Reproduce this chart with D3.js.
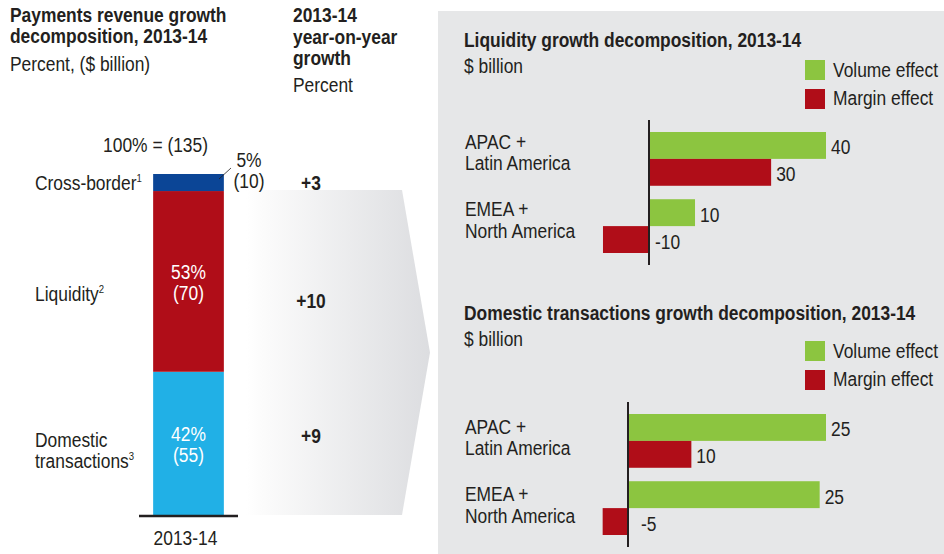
<!DOCTYPE html>
<html><head><meta charset="utf-8">
<script src="https://cdn.jsdelivr.net/npm/d3@7/dist/d3.min.js"></script>
<style>
body{margin:0;background:#fff;}
svg text{font-family:"Liberation Sans","Arial",sans-serif;fill:#231f20;}
</style></head>
<body>
<svg id="c" width="944" height="554"></svg>
<script>
// ---- Data ----
const segments = ["Domestic transactions", "Liquidity", "Cross-border"];
const segmentSup = ["3", "2", "1"];
const sharePct = [42, 53, 5];
const shareBn = [55, 70, 10];
const growthLabels = ["+9", "+10", "+3"];
const totalLabel = "100% = (135)";
const periodLabel = "2013-14";

const regions = [["APAC +", "Latin America"], ["EMEA +", "North America"]];
const seriesNames = ["Volume effect", "Margin effect"];
const liqVolume = [40, 10.4];
const liqMargin = [27.6, -10.4];
const liqLabels = [["40", "30"], ["10", "-10"]];
const domVolume = [25, 24.2];
const domMargin = [8, -3.2];
const domLabels = [["25", "10"], ["25", "-5"]];

const segColors = ["#21b0e6", "#b00d18", "#0b4596"];
const effColors = ["#8cc540", "#b00d18"];

(function () {
const svg = d3.select("#c");
const FS = 20, SX = 0.87;

// condensed text helper: real text, horizontally scaled
function T(x, y, arr, o = {}) {
  const t = svg.append("text")
    .attr("transform", `translate(${x},${y}) scale(${SX},1)`)
    .attr("font-size", o.fs || FS)
    .attr("text-anchor", o.anchor || "start");
  if (o.bold) t.attr("font-weight", "bold");
  if (o.fill) t.style("fill", o.fill);
  arr.forEach((s, k) => t.append("tspan").attr("x", 0).attr("y", o.ys ? o.ys[k] : k * (o.lh || 21)).text(s));
  return t;
}

// ---- Right panel background ----
svg.append("rect").attr("x", 438).attr("y", 11).attr("width", 506).attr("height", 543).attr("fill", "#e6e7e8");

// ---- Arrow gradient ----
const defs = svg.append("defs");
const grad = defs.append("linearGradient").attr("id", "g").attr("x1", "0").attr("x2", "1").attr("y1", "0").attr("y2", "0");
grad.append("stop").attr("offset", "0").attr("stop-color", "#ffffff");
grad.append("stop").attr("offset", "0.1").attr("stop-color", "#fbfbfb");
grad.append("stop").attr("offset", "1").attr("stop-color", "#dcdde0");

// ---- Left stacked bar ----
const y = d3.scaleLinear().domain([0, 100]).range([515, 174]);
const xb = d3.scaleBand().domain([periodLabel]).range([139, 238]).paddingInner(0).paddingOuter(0.2);
const stack = [];
let acc = 0;
sharePct.forEach((v, i) => { stack.push({ i, y0: acc, y1: acc + v }); acc += v; });

const arrowTop = y(stack[2].y0) - 1, arrowBot = y(0);
svg.append("path")
  .attr("d", `M246,${arrowTop} L402,${arrowTop} L430,${(arrowTop + arrowBot) / 2} L402,${arrowBot} L246,${arrowBot} Z`)
  .attr("fill", "url(#g)");

svg.selectAll("rect.seg").data(stack).join("rect").attr("class", "seg")
  .attr("x", xb(periodLabel)).attr("width", xb.bandwidth())
  .attr("y", d => y(d.y1)).attr("height", d => y(d.y0) - y(d.y1))
  .attr("fill", d => segColors[d.i]);

svg.append("line").attr("x1", 139).attr("x2", 238).attr("y1", 516).attr("y2", 516).attr("stroke", "#231f20").attr("stroke-width", 2.5);
const cx = xb(periodLabel) + xb.bandwidth() / 2;
T(cx - 3, 545, [periodLabel], { anchor: "middle" });
T(208, 152, [totalLabel], { anchor: "end" });

stack.slice(0, 2).forEach(d => {
  const m = y((d.y0 + d.y1) / 2);
  T(cx, m - 2, [sharePct[d.i] + "%", "(" + shareBn[d.i] + ")"], { anchor: "middle", fill: "#fff" });
});
const topSeg = stack[2];
svg.append("line").attr("x1", 219).attr("y1", 179).attr("x2", 231).attr("y2", 168).attr("stroke", "#231f20").attr("stroke-width", 0.8);
T(249, 167, [sharePct[topSeg.i] + "%"], { anchor: "middle" });
T(249, 188, ["(" + shareBn[topSeg.i] + ")"], { anchor: "middle" });

const catOff = [4, 20, 7];
stack.forEach(d => {
  const m = y((d.y0 + d.y1) / 2);
  const words = d.i === 0 ? ["Domestic", "transactions"] : [segments[d.i]];
  const t = T(35, m + catOff[d.i], words, { lh: 21 });
  t.append("tspan").attr("font-size", 11).attr("dy", -8).text(segmentSup[d.i]);
});
const gOff = [0, 27, 7];
stack.forEach(d => {
  const m = y((d.y0 + d.y1) / 2);
  T(311, m + gOff[d.i], [growthLabels[d.i]], { anchor: "middle", bold: true });
});

T(10, 22, ["Payments revenue growth", "decomposition, 2013-14"], { bold: true });
T(10, 71, ["Percent, ($ billion)"]);
T(293, 22, ["2013-14", "year-on-year", "growth"], { bold: true, ys: [0, 22, 43] });
T(293, 92, ["Percent"]);

// ---- Right panels ----
function panel(oy, p) {
  T(464, oy + p.titleY, [p.title], { bold: true });
  T(464, oy + p.titleY + 26, ["$ billion"]);
  seriesNames.forEach((s, k) => {
    svg.append("rect").attr("x", 805).attr("y", oy + p.legY + k * 29).attr("width", 20).attr("height", 20).attr("fill", effColors[k]);
    T(833, oy + p.legY + 17 + k * 28, [s]);
  });
  const x = d3.scaleLinear().domain([0, p.unitMax]).range([p.axisX, p.axisX + p.pxMax]);
  const band = d3.scaleBand().domain(regions.map((r, i) => i)).range([oy + p.barY, oy + p.barY + 121]).paddingInner(0.2);
  const h = band.bandwidth() / 2;
  const data = [];
  regions.forEach((r, i) => {
    [p.vol[i], p.mar[i]].forEach((v, k) => data.push({ i, k, v, lab: p.labels[i][k] }));
  });
  svg.append("g").selectAll("rect").data(data).join("rect")
    .attr("x", d => Math.min(x(0), x(d.v))).attr("width", d => Math.abs(x(d.v) - x(0)))
    .attr("y", d => band(d.i) + d.k * h).attr("height", h)
    .attr("fill", d => effColors[d.k]);
  data.forEach(d => {
    T(d.v >= 0 ? x(d.v) + 5 : x(0) + p.negOff, band(d.i) + d.k * h + h / 2 + 9, [d.lab]);
  });
  svg.append("line").attr("x1", x(0)).attr("x2", x(0)).attr("y1", oy + p.barY - 12).attr("y2", oy + p.barY + 133).attr("stroke", "#231f20").attr("stroke-width", 2);
  regions.forEach((r, i) => {
    T(465, band(i) + p.labOff, r, { lh: 21.5 });
  });
}
panel(0, { title: "Liquidity growth decomposition, 2013-14", vol: liqVolume, mar: liqMargin, labels: liqLabels,
  axisX: 649, unitMax: 40, pxMax: 177, titleY: 47, legY: 60, barY: 132, labOff: 17, negOff: 6 });
panel(280, { title: "Domestic transactions growth decomposition, 2013-14", vol: domVolume, mar: domMargin, labels: domLabels,
  axisX: 628, unitMax: 25, pxMax: 198, titleY: 40, legY: 61, barY: 134, labOff: 20, negOff: 13 });
})();
</script>
</body></html>
